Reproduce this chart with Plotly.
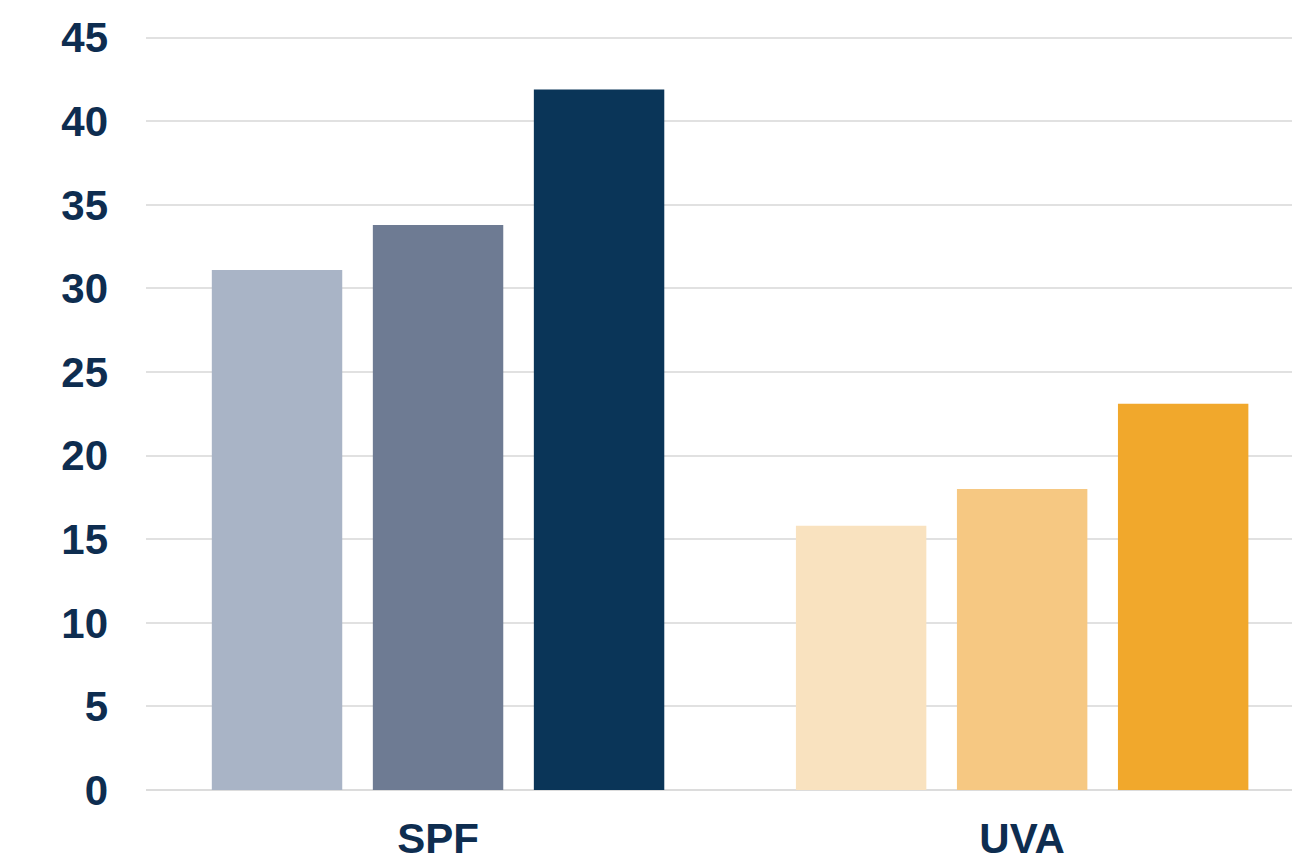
import plotly.graph_objects as go

categories = ["SPF", "UVA"]
series1 = [31.1, 15.8]
series2 = [33.8, 18.0]
series3 = [41.9, 23.1]
colors1 = ["#a9b4c6", "#f9e2bf"]
colors2 = ["#6e7b93", "#f6c882"]
colors3 = ["#0a3558", "#f1a82c"]
y_ticks = [0, 5, 10, 15, 20, 25, 30, 35, 40, 45]

fig = go.Figure()
for vals, cols in [(series1, colors1), (series2, colors2), (series3, colors3)]:
    fig.add_trace(go.Bar(x=categories, y=vals, marker=dict(color=cols, line=dict(width=0)),
                         showlegend=False))

font_color = "#0e2d50"
fig.update_layout(
    width=1292, height=862,
    margin=dict(l=146, r=0, t=36, b=72),
    paper_bgcolor="white", plot_bgcolor="white",
    barmode="group", bargap=0.173, bargroupgap=0.19,
    font=dict(family="Liberation Sans, Arial, sans-serif", color=font_color),
    xaxis=dict(type="category", range=[-0.5, 1.462], showgrid=False, showline=False,
               ticks="", tickfont=dict(size=42, family="Liberation Sans", color=font_color, weight="bold"),
               ticklabelstandoff=20),
    yaxis=dict(range=[0, 45.1], tickvals=y_ticks, showgrid=True, gridcolor="#e1e1e1", gridwidth=2,
               zeroline=True, zerolinecolor="#dcdcdc", zerolinewidth=2, showline=False, ticks="",
               tickfont=dict(size=42, family="Liberation Sans", color=font_color, weight="bold"),
               ticklabelstandoff=37),
)

fig.write_html("out.html", config={"displayModeBar": False},
               post_script="document.body.style.margin='0px';document.body.style.overflow='hidden';")
